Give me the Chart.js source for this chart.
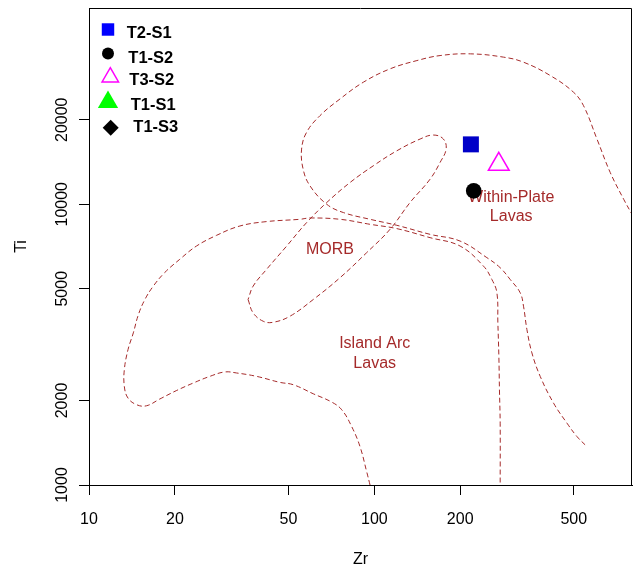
<!DOCTYPE html>
<html>
<head>
<meta charset="utf-8">
<script src="https://cdn.jsdelivr.net/npm/chart.js"></script>
<style>
  html, body { margin: 0; padding: 0; background: #fff; }
</style>
</head>
<body>
<canvas id="myChart" width="637" height="570"></canvas>
<script>
// axis ticks
var xTicks = [10, 20, 50, 100, 200, 500];
var yTicks = [1000, 2000, 5000, 10000, 20000];

// samples (Zr, Ti)
var sampleNames = ['T2-S1', 'T1-S2', 'T3-S2', 'T1-S1', 'T1-S3'];
var sampleZr = [[218], [223], [273], [], []];
var sampleTi = [[16340], [11160], [13870], [], []];

// field boundaries (Pearce 1982)
var islandArcZr = [96.6, 94.0, 89.1, 83.3, 76.9, 70.9, 61.1, 52.0, 46.7, 38.7, 32.9, 29.9, 26.5, 23.2, 20.3, 17.7, 15.9, 14.7, 13.7, 13.3,
  13.3, 13.7, 14.3, 14.9, 15.7, 16.8, 18.4, 20.8, 23.8, 28.0, 33.8, 41.9, 54.9, 59.5, 75.8, 96.6, 119.9, 156.8, 199.8, 241.3,
  258.2, 268.9, 271.0, 273.2, 274.5, 276.1, 276.1];
var islandArcTi = [1000, 1116, 1370, 1615, 1853, 1974, 2113, 2276, 2320, 2437, 2506, 2527, 2437, 2308, 2172, 2024, 1915, 1931, 2040, 2244,
  2575, 3035, 3482, 4047, 4578, 5108, 5703, 6365, 7097, 7750, 8366, 8674, 8839, 8935, 8839, 8483, 8188, 7603, 7097, 6021,
  5397, 4838, 3780, 2872, 2184, 1661, 1000];

var withinPlateZr = [891, 800, 748, 671, 603, 541, 499, 414, 333, 284, 217, 170, 141, 113.5, 91.5, 75.8, 64.5, 57.9, 55.6, 56.3,
  59.5, 68.1, 77.9, 96.6, 119.9, 156.8, 199.8, 248.0, 276.1, 299.3, 324.5, 333.3, 342.6, 356.7, 381.4, 424.7, 473.3, 513.1, 556.3];
var withinPlateTi = [7622, 9211, 10420, 12980, 17070, 22440, 25060, 28720, 32070, 33410, 34330, 33850, 32490, 30350, 27200, 23710, 20680, 18040, 15720, 13340,
  11630, 10000, 9341, 8839, 8414, 7813, 7393, 6454, 5942, 5397, 4838, 4334, 3578, 2954, 2437, 1958, 1661, 1488, 1370];

var morbZr = [36.1, 37.6, 40.8, 44.2, 50.6, 61.1, 75.8, 94.0, 113.5, 133.4, 156.8, 170.0, 178.5, 174.6, 161.1, 144.7, 119.9, 99.2, 82.2, 68.1,
  57.9, 49.3, 41.9, 37.6, 36.1];
var morbTi = [4578, 4104, 3830, 3798, 3991, 4578, 5473, 6722, 8141, 10140, 12280, 14090, 15720, 17070, 17640, 17070, 15500, 13710, 11950, 10140,
  8602, 7097, 5860, 5108, 4578];

// field names, placed at (Zr, Ti)
var fieldLabels = [['MORB'], ['Within-Plate', 'Lavas'], ['Island Arc', 'Lavas']];
var fieldLabelZr = [69.9, 301.8, 100.3];
var fieldLabelTi = [6906, 9772, 2932];

// marker styles
var sampleStyles = [
  {pointStyle: 'rect', radius: 11.3, fill: '#0000c8', stroke: '#0000c8', width: 0},
  {pointStyle: 'circle', radius: 7.8, fill: '#000000', stroke: '#000000', width: 0},
  {pointStyle: 'triangle', radius: 12, fill: 'rgba(0,0,0,0)', stroke: '#ff00ff', width: 1.5},
  {pointStyle: 'triangle', radius: 11.5, fill: '#00ff00', stroke: '#00ff00', width: 0},
  {pointStyle: 'rectRot', radius: 8, fill: '#000000', stroke: '#000000', width: 0}
];
// hand placed legend rows (symbol x/y, text x/y, symbol size)
var legendRows = [
  {sx: 108, sy: 29.5, tx: 126.7, ty: 33, r: 8.8, fill: '#0000ff'},
  {sx: 108, sy: 53.5, tx: 128.3, ty: 58.2, r: 6},
  {sx: 110.3, sy: 77.2, tx: 129.3, ty: 80, r: 9.5},
  {sx: 108, sy: 102.2, tx: 130.7, ty: 105, r: 11.7},
  {sx: 110.7, sy: 127.8, tx: 133.3, ty: 127.2, r: 8}
];

var brown = '#a52a2a';
Chart.defaults.font.family = "'Liberation Sans', Arial, Helvetica, sans-serif";
Chart.defaults.color = '#000';

function pts(xs, ys) {
  return xs.map(function (x, i) { return {x: x, y: ys[i]}; });
}
function fieldSet(label, xs, ys) {
  return {
    label: label, data: pts(xs, ys), showLine: true, fill: false,
    borderColor: brown, borderWidth: 1, borderDash: [5, 3], tension: 0.4,
    pointRadius: 0, pointHoverRadius: 0, order: 10
  };
}

var datasets = [
  fieldSet('Island Arc', islandArcZr, islandArcTi),
  fieldSet('Within-Plate', withinPlateZr, withinPlateTi),
  fieldSet('MORB', morbZr, morbTi)
];
sampleNames.forEach(function (name, i) {
  var st = sampleStyles[i];
  datasets.push({
    label: name, data: pts(sampleZr[i], sampleTi[i]),
    pointStyle: st.pointStyle, pointRadius: st.radius, pointHoverRadius: st.radius,
    backgroundColor: st.fill, borderColor: st.stroke, borderWidth: st.width, order: 1
  });
});

var extras = {
  id: 'extras',
  beforeDatasetsDraw: function (chart) {
    var ctx = chart.ctx, xs = chart.scales.x, ys = chart.scales.y;
    ctx.save();
    ctx.font = '16px ' + Chart.defaults.font.family;
    ctx.fillStyle = brown;
    ctx.textAlign = 'center';
    ctx.textBaseline = 'middle';
    fieldLabels.forEach(function (lines, i) {
      var px = xs.getPixelForValue(fieldLabelZr[i]);
      var py = ys.getPixelForValue(fieldLabelTi[i]);
      lines.forEach(function (t, j) {
        ctx.fillText(t, px, py + (j - (lines.length - 1) / 2) * 19.5);
      });
    });
    ctx.restore();
  },
  afterDraw: function (chart) {
    var ctx = chart.ctx, a = chart.chartArea, ys = chart.scales.y;
    ctx.save();
    // box round the plot
    ctx.strokeStyle = '#000';
    ctx.lineWidth = 1;
    ctx.beginPath();
    ctx.moveTo(Math.round(a.left) + 0.5, Math.round(a.top) + 0.5);
    ctx.lineTo(Math.round(a.right) - 0.5, Math.round(a.top) + 0.5);
    ctx.lineTo(Math.round(a.right) - 0.5, Math.round(a.bottom) + 0.5);
    ctx.stroke();
    // rotated y tick labels
    ctx.fillStyle = '#000';
    ctx.font = '16px ' + Chart.defaults.font.family;
    ctx.textAlign = 'center';
    ctx.textBaseline = 'middle';
    ys.ticks.forEach(function (t) {
      ctx.save();
      ctx.translate(a.left - 26.5, ys.getPixelForValue(t.value));
      ctx.rotate(-Math.PI / 2);
      ctx.fillText(String(t.value), 0, 0);
      ctx.restore();
    });
    // legend
    ctx.font = 'bold 16.5px ' + Chart.defaults.font.family;
    ctx.textAlign = 'left';
    legendRows.forEach(function (row, i) {
      var st = sampleStyles[i];
      ctx.fillStyle = row.fill || st.fill;
      ctx.strokeStyle = st.stroke;
      ctx.lineWidth = st.width;
      Chart.helpers.drawPoint(ctx, {pointStyle: st.pointStyle, radius: row.r, rotation: 0, borderWidth: st.width}, row.sx, row.sy);
      ctx.fillStyle = '#000';
      ctx.fillText(sampleNames[i], row.tx, row.ty);
    });
    ctx.restore();
  }
};

var ctx = document.getElementById('myChart').getContext('2d');
var chart = new Chart(ctx, {
  type: 'scatter',
  data: {datasets: datasets},
  options: {
    responsive: false,
    animation: false,
    events: [],
    layout: {autoPadding: false, padding: {top: 8, right: 5, left: 0, bottom: 0}},
    plugins: {legend: {display: false}, tooltip: {enabled: false}},
    scales: {
      x: {
        type: 'logarithmic', min: 10, max: 800,
        afterBuildTicks: function (s) { s.ticks = xTicks.map(function (v) { return {value: v}; }); },
        afterFit: function (s) { s.height = 85; },
        ticks: {font: {size: 16}, color: '#000', padding: 15, maxRotation: 0, autoSkip: false,
          callback: function (v) { return String(v); }},
        grid: {drawOnChartArea: false, tickLength: 10, tickColor: '#000', tickWidth: 1, color: '#000'},
        border: {display: true, color: '#000', width: 1},
        title: {display: true, text: 'Zr', color: '#000', font: {size: 16}, padding: {top: 0, bottom: 1}}
      },
      y: {
        type: 'logarithmic', min: 1000, max: 50000,
        afterBuildTicks: function (s) { s.ticks = yTicks.map(function (v) { return {value: v}; }); },
        afterFit: function (s) { s.width = 89; },
        ticks: {display: false},
        grid: {drawOnChartArea: false, tickLength: 10, tickColor: '#000', tickWidth: 1, color: '#000'},
        border: {display: true, color: '#000', width: 1},
        title: {display: true, text: 'Ti', color: '#000', font: {size: 16}, padding: {top: 12, bottom: 0}}
      }
    }
  },
  plugins: [extras]
});
</script>
</body>
</html>
